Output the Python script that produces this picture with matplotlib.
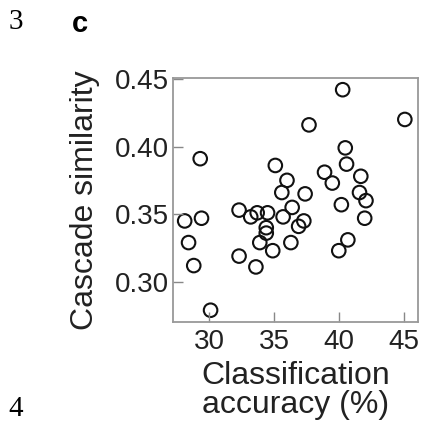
import matplotlib.pyplot as plt

# 分类准确率 (%) 与级联相似度
accuracy = [40.3, 45.1, 37.7, 29.3, 40.5, 35.1, 40.6, 38.9, 39.5, 36.0,
            41.7, 35.6, 37.4, 41.6, 42.1, 36.4, 40.2, 32.3, 33.7, 34.5,
            33.2, 35.7, 28.1, 29.4, 42.0, 34.4, 34.4, 37.3, 36.9, 28.4,
            33.9, 36.3, 34.9, 40.7, 40.0, 32.3, 33.6, 28.8, 30.1]
similarity = [0.442, 0.420, 0.416, 0.391, 0.399, 0.386, 0.387, 0.381, 0.373, 0.375,
              0.378, 0.366, 0.365, 0.366, 0.360, 0.355, 0.357, 0.353, 0.351, 0.351,
              0.348, 0.348, 0.345, 0.347, 0.347, 0.340, 0.336, 0.345, 0.341, 0.329,
              0.329, 0.329, 0.323, 0.331, 0.323, 0.319, 0.311, 0.312, 0.279]

xticks = [30, 35, 40, 45]
yticks = [0.30, 0.35, 0.40, 0.45]

plt.rcParams['font.family'] = ['Liberation Sans', 'DejaVu Sans']

fig = plt.figure(figsize=(4.22, 4.25), dpi=100)
ax = fig.add_axes([0.41, 0.243, 0.58, 0.573])

ax.scatter(accuracy, similarity, s=95, facecolors='none', edgecolors='#111111', linewidths=1.5)

ax.set_xlim(27.2, 46.1)
ax.set_ylim(0.2705, 0.4505)
ax.set_xticks(xticks)
ax.set_xticklabels([str(t) for t in xticks])
ax.set_yticks(yticks)
ax.set_yticklabels(['%.2f' % t for t in yticks])
ax.tick_params(direction='in', length=7, width=1, colors='#888888', labelcolor='#222222',
               labelsize=20)
ax.tick_params(axis='x', pad=5)
ax.tick_params(axis='y', pad=3)
for s in ax.spines.values():
    s.set_color('#999999')
    s.set_linewidth(1.3)

ax.set_xlabel('Classification\naccuracy (%)', fontsize=23, color='#222222', linespacing=0.95)
ax.set_ylabel('Cascade similarity', fontsize=23, color='#222222')
ax.xaxis.label.set_va('top')
ax.yaxis.set_label_coords(-0.30, 0.5)
ax.xaxis.set_label_coords(0.5, -0.16)

fig.text(16 / 422, 1 - 22 / 425, '3', fontsize=21, family='Liberation Serif', va='center', ha='center')
fig.text(80 / 422, 1 - 24 / 425, 'c', fontsize=21, fontweight='bold', va='center', ha='center')
fig.text(16 / 422, 1 - 409 / 425, '4', fontsize=21, family='Liberation Serif', va='center', ha='center')

fig.savefig('out.png', dpi=100)
